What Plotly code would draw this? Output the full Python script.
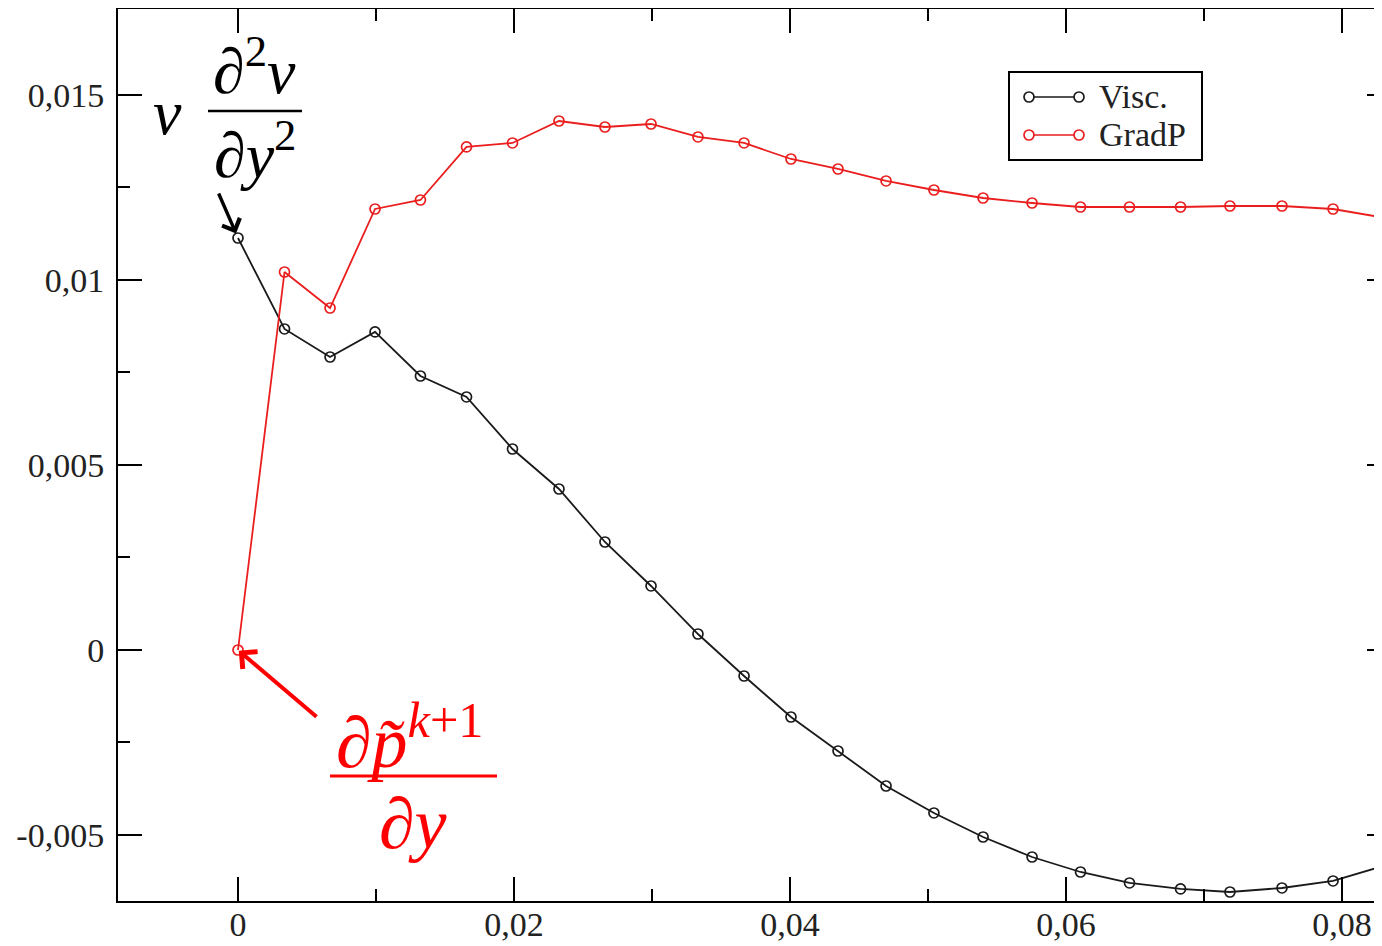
import plotly.graph_objects as go

# ---- data ----
x_vals = [0.0, 0.00337, 0.00667, 0.00993, 0.01322, 0.01656, 0.01989, 0.02326,
          0.02659, 0.02993, 0.03333, 0.03667, 0.04007, 0.04348, 0.04696, 0.05043,
          0.05399, 0.05754, 0.06105, 0.06460, 0.06830, 0.07188, 0.07565, 0.07935,
          0.08275]
visc = [0.011135, 0.008676, 0.007919, 0.008595, 0.007405, 0.006838, 0.005432,
        0.004351, 0.002919, 0.001730, 0.000432, -0.000703, -0.001811, -0.002730,
        -0.003676, -0.004405, -0.005054, -0.005595, -0.006000, -0.006297,
        -0.006459, -0.006541, -0.006432, -0.006243, -0.005865]
gradp = [0.0, 0.010216, 0.009243, 0.011919, 0.012162, 0.013595, 0.013703,
         0.014297, 0.014135, 0.014216, 0.013865, 0.013703, 0.013270, 0.013000,
         0.012676, 0.012432, 0.012216, 0.012081, 0.011973, 0.011973, 0.011973,
         0.012000, 0.012000, 0.011919, 0.011703]
series_names = ["Visc.", "GradP"]
x_tick_vals = [0, 0.02, 0.04, 0.06, 0.08]
x_tick_text = ["0", "0,02", "0,04", "0,06", "0,08"]
y_tick_vals = [-0.005, 0, 0.005, 0.01, 0.015]
y_tick_text = ["-0,005", "0", "0,005", "0,01", "0,015"]

# ---- layout geometry (page has an 8px body margin) ----
OFF = 8
W, H = 1383, 960
ML, MR, MT, MB = 110, 0, 1, 67
PW, PH = W - ML - MR, H - MT - MB
X_RANGE = [-0.008696, 0.08355]
Y_RANGE = [-0.006784, 0.017324]

def px(xp):
    """page pixel x -> paper fraction"""
    return (xp - OFF - ML) / PW

def py(yp):
    """page pixel y -> paper fraction"""
    return 1 - (yp - OFF - MT) / PH

BLACK = "#1a1a1a"
RED = "#ea1e1e"
SERIF = "Liberation Serif"
colors = [BLACK, RED]

fig = go.Figure()
for name, yv, c in zip(series_names, [visc, gradp], colors):
    fig.add_trace(go.Scatter(
        x=x_vals, y=yv, name=name, mode="lines+markers", showlegend=False,
        line=dict(color=c, width=1.8),
        marker=dict(symbol="circle-open", size=10, color=c, line=dict(width=1.7)),
    ))

axis_common = dict(
    showline=True, linecolor="black", linewidth=2, mirror="ticks",
    ticks="inside", ticklen=24, tickwidth=2, tickcolor="black",
    showgrid=False, zeroline=False, automargin=False,
    tickfont=dict(family=SERIF, size=34, color="#222"),
)
fig.update_xaxes(
    range=X_RANGE, tickmode="array", tickvals=x_tick_vals, ticktext=x_tick_text,
    minor=dict(ticks="inside", ticklen=12, tickwidth=2, tickcolor="black",
               dtick=0.01, tick0=0, showgrid=False),
    ticklabelstandoff=-8,
    **axis_common,
)
fig.update_yaxes(
    range=Y_RANGE, tickmode="array", tickvals=y_tick_vals, ticktext=y_tick_text,
    minor=dict(ticks="inside", ticklen=12, tickwidth=2, tickcolor="black",
               dtick=0.0025, tick0=0, showgrid=False),
    ticklabelstandoff=5,
    **axis_common,
)

ann = []
math_font_k = dict(family=SERIF, size=64, color="black")
math_font_r = dict(family=SERIF, size=72, color="red")
# black label: nu d2v/dy2
ann.append(dict(xref="paper", yref="paper", x=px(167), y=py(112), text="<i>ν</i>",
                showarrow=False, font=math_font_k, xanchor="center", yanchor="middle"))
ann.append(dict(xref="paper", yref="paper", x=px(254), y=py(66),
                text="<i>∂</i><sup>2</sup><i>v</i>",
                showarrow=False, font=math_font_k, xanchor="center", yanchor="middle"))
ann.append(dict(xref="paper", yref="paper", x=px(255), y=py(150),
                text="<i>∂y</i><sup>2</sup>",
                showarrow=False, font=math_font_k, xanchor="center", yanchor="middle"))
# red label: d p~^{k+1} / dy
ann.append(dict(xref="paper", yref="paper", x=px(410), y=py(737),
                text="<i>∂p\u0303</i><sup><i>k</i>+1</sup>",
                showarrow=False, font=math_font_r, xanchor="center", yanchor="middle"))
ann.append(dict(xref="paper", yref="paper", x=px(413), y=py(824),
                text="<i>∂y</i>",
                showarrow=False, font=math_font_r, xanchor="center", yanchor="middle"))
# arrows pointing at first points
ann.append(dict(x=x_vals[0], y=visc[0], xref="x", yref="y", text="",
                showarrow=True, ax=-20, ay=-46, arrowhead=4, arrowsize=1.1,
                arrowwidth=3.4, arrowcolor="black", standoff=5))
ann.append(dict(x=x_vals[0], y=gradp[0], xref="x", yref="y", text="",
                showarrow=True, ax=80, ay=68, arrowhead=4, arrowsize=1.1,
                arrowwidth=4, arrowcolor="red", standoff=1))

# custom legend (box with line + two open circles per entry)
leg_rows = [97, 135]
for name, c, yr in zip(series_names, colors, leg_rows):
    ann.append(dict(xref="paper", yref="paper", x=px(1097), y=py(yr), text=name,
                    showarrow=False, xanchor="left", yanchor="middle",
                    font=dict(family=SERIF, size=34, color="#222")))
fig.update_layout(annotations=ann)

fig.add_shape(type="rect", xref="paper", yref="paper",
              x0=px(1009), x1=px(1202), y0=py(160), y1=py(72),
              line=dict(color="black", width=2), fillcolor="white", layer="above")
for c, yr in zip(colors, leg_rows):
    fig.add_shape(type="line", xref="paper", yref="paper",
                  x0=px(1029), x1=px(1079), y0=py(yr), y1=py(yr),
                  line=dict(color=c, width=1.7), layer="above")
    for xc in (1029, 1079):
        fig.add_shape(type="circle", xref="paper", yref="paper",
                      xsizemode="pixel", ysizemode="pixel",
                      xanchor=px(xc), yanchor=py(yr),
                      x0=-5, x1=5, y0=-5, y1=5,
                      line=dict(color=c, width=1.7), fillcolor="white", layer="above")

# fraction bars
fig.add_shape(type="line", xref="paper", yref="paper",
              x0=px(208), x1=px(302), y0=py(111), y1=py(111),
              line=dict(color="black", width=2.5))
fig.add_shape(type="line", xref="paper", yref="paper",
              x0=px(330), x1=px(497), y0=py(776), y1=py(776),
              line=dict(color="red", width=3))

fig.update_layout(
    width=W, height=H,
    margin=dict(l=ML, r=MR, t=MT, b=MB, pad=0),
    paper_bgcolor="white", plot_bgcolor="white",
    showlegend=False,
)

fig.write_html("out.html")
